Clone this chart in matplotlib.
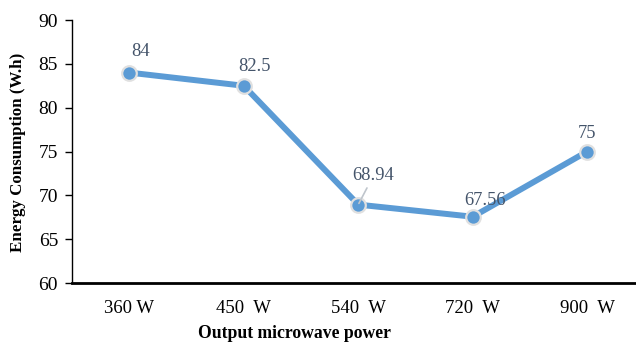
import matplotlib.pyplot as plt

# microwave power levels and measured energy use
powers = ['360 W', '450  W', '540  W', '720  W', '900  W']
energy = [84, 82.5, 68.94, 67.56, 75]
# label offsets (points) for each value tag
label_dx = [8, 8, 11, 9, 0]
label_dy = [15, 14, 21, 12, 13]

plt.rcParams['font.family'] = ['Liberation Serif', 'DejaVu Serif']

fig = plt.figure(figsize=(6.36, 3.42), dpi=100)
ax = fig.add_axes([72 / 636, 1 - 283 / 342, (644.5 - 72) / 636, (283 - 20) / 342])

x = range(len(powers))
ax.plot(x, energy, color='#5B9BD5', linewidth=4.3, solid_capstyle='round',
        marker='o', markersize=10.5, markerfacecolor='#5B9BD5',
        markeredgecolor='#E0E0E0', markeredgewidth=1.6, zorder=3)

for i, v in enumerate(energy):
    txt = f'{v:g}'
    if i == 2:
        # leader line for the label that sits off its point
        ax.annotate(txt, (i, v), xytext=(label_dx[i], label_dy[i]),
                    textcoords='offset points', ha='center', va='center',
                    fontsize=13.3, color='#44546A', zorder=4,
                    arrowprops=dict(arrowstyle='-', color='#BFC5CC', lw=1.2,
                                    shrinkA=1, shrinkB=1))
    else:
        ax.annotate(txt, (i, v), xytext=(label_dx[i], label_dy[i]),
                    textcoords='offset points', ha='center', va='center',
                    fontsize=13.3, color='#44546A', zorder=4)

ax.set_xlim(-0.5, len(powers) - 0.5)
ax.set_ylim(60, 90)
ax.set_yticks(range(60, 91, 5))
ax.set_xticks(list(x))
ax.set_xticklabels(powers)
ax.tick_params(axis='y', labelsize=14, length=5, width=1, direction='out', pad=5)
ax.tick_params(axis='x', labelsize=13.5, length=0, pad=12)

for s in ('top', 'right'):
    ax.spines[s].set_visible(False)
ax.spines['left'].set_linewidth(1.0)
ax.spines['bottom'].set_linewidth(2.0)

fig.text(18 / 636, 1 - 152 / 342, 'Energy Consumption (W.h)', rotation=90,
         ha='center', va='center', fontsize=12.2, fontweight='bold')
fig.text(294 / 636, 1 - 333 / 342, 'Output microwave power',
         ha='center', va='center', fontsize=12.7, fontweight='bold')

fig.savefig('out.png', dpi=100)
